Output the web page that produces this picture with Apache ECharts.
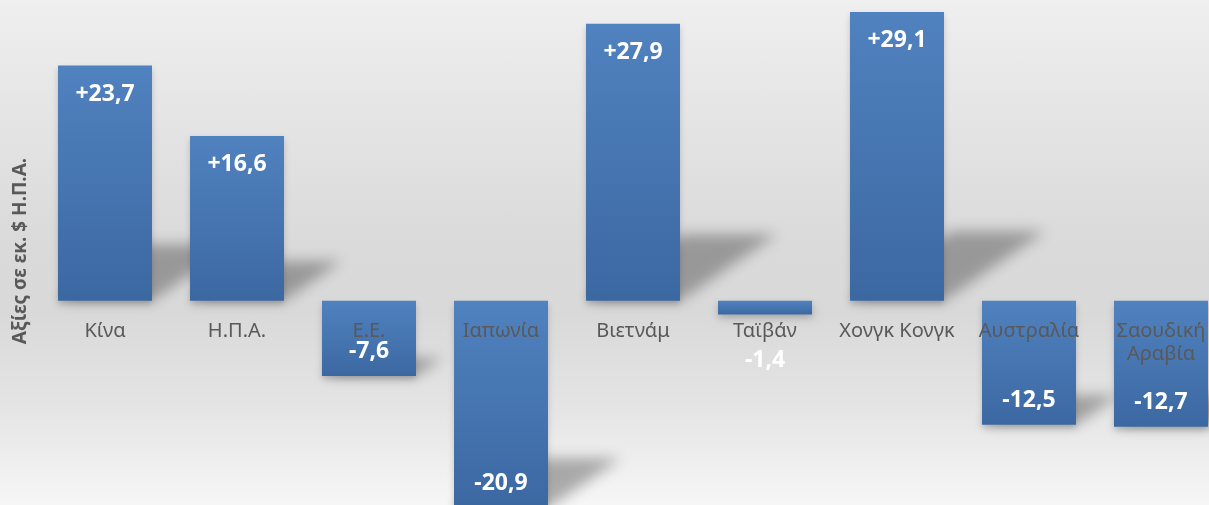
<!DOCTYPE html>
<html>
<head>
<meta charset="utf-8">
<script src="https://cdn.jsdelivr.net/npm/echarts@6/dist/echarts.min.js"></script>
<style>
  html, body { margin: 0; padding: 0; }
  #chart {
    width: 1209px;
    height: 505px;
    background: linear-gradient(to bottom, #efefef 0%, #e6e6e6 20%, #dadada 48%, #d9d9d9 62%, #e4e4e4 80%, #f6f6f6 100%);
  }
</style>
</head>
<body>
<div id="chart"></div>
<script>
// categories and values (εκ. $ Η.Π.Α.)
const categories = ['Κίνα', 'Η.Π.Α.', 'Ε.Ε.', 'Ιαπωνία', 'Βιετνάμ', 'Ταϊβάν', 'Χονγκ Κονγκ', 'Αυστραλία', 'Σαουδική\nΑραβία']
const values = [23.7, 16.6, -7.6, -20.9, 27.9, -1.4, 29.1, -12.5, -12.7]
const yTitle = 'Αξίες σε εκ. $ Η.Π.Α.'
const yMin = -21
const yMax = 30

const chart = echarts.init(document.getElementById('chart'))
const BAR_W = 94
const GRID_TOP = 3
const GRID_H = 506
const FONT = '"Noto Sans", "Open Sans", sans-serif'

// distance from grid bottom up to the zero line
const zeroOffset = GRID_H * (0 - yMin) / (yMax - yMin)

function fmt (v) {
  return (v > 0 ? '+' : '') + v.toFixed(1).replace('.', ',')
}

// label placement per bar
const barData = values.map(v => {
  let label
  if (v >= 0) {
    label = { position: 'insideTop', distance: 17 }
  } else if (v > -3) {
    // tiny bar: label sits under it
    label = { position: 'bottom', distance: 34 }
  } else {
    label = { position: 'insideBottom', distance: 13 }
  }
  return { value: v, label: label }
})

// perspective shadow behind each bar (diagonal, upper right)
function renderShadow (params, api) {
  const idx = api.value(0)
  const v = api.value(1)
  const p0 = api.coord([idx, 0])
  const p1 = api.coord([idx, v])
  const bottom = Math.max(p0[1], p1[1])
  const h = Math.abs(p1[1] - p0[1])
  const x0 = p0[0] - BAR_W / 2
  const x1 = p0[0] + BAR_W / 2
  const dx = h * 0.35
  const dy = h * 0.24
  const off = 3000
  return {
    type: 'polygon',
    silent: true,
    shape: {
      points: [
        [x0 - off, bottom], [x1 - off, bottom],
        [x1 + dx - off, bottom - dy], [x0 + dx - off, bottom - dy]
      ]
    },
    style: {
      fill: '#000',
      shadowColor: 'rgba(0, 0, 0, 0.3)',
      shadowBlur: 14,
      shadowOffsetX: off,
      shadowOffsetY: 0
    }
  }
}

const option = {
  backgroundColor: 'transparent',
  animation: false,
  grid: {
    left: 39,
    top: GRID_TOP,
    width: 1188,
    height: GRID_H,
    containLabel: false,
    outerBoundsMode: 'none'
  },
  xAxis: {
    type: 'category',
    data: categories,
    position: 'bottom',
    offset: -zeroOffset,
    z: 10,
    axisLine: { show: false, onZero: false },
    axisTick: { show: false },
    axisLabel: {
      interval: 0,
      margin: 19,
      color: '#595959',
      fontFamily: FONT,
      fontSize: 20,
      lineHeight: 23
    }
  },
  yAxis: {
    type: 'value',
    min: yMin,
    max: yMax,
    axisLine: { show: false },
    axisTick: { show: false },
    axisLabel: { show: false },
    splitLine: { show: false }
  },
  graphic: [{
    type: 'text',
    x: 21,
    y: 251,
    rotation: Math.PI / 2,
    style: {
      text: yTitle,
      fill: '#595959',
      font: 'bold 19px ' + FONT,
      align: 'center',
      verticalAlign: 'middle'
    }
  }],
  series: [
    {
      type: 'custom',
      z: 1,
      renderItem: renderShadow,
      data: values.map((v, i) => [i, v])
    },
    {
      type: 'bar',
      z: 2,
      barWidth: BAR_W,
      data: barData,
      itemStyle: {
        color: new echarts.graphic.LinearGradient(0, 0, 0, 1, [
          { offset: 0, color: '#5082bf' },
          { offset: 1, color: '#3c68a2' }
        ]),
        shadowColor: 'rgba(0, 0, 0, 0.18)',
        shadowBlur: 6,
        shadowOffsetY: 3
      },
      label: {
        show: true,
        color: '#ffffff',
        fontFamily: FONT,
        fontWeight: 'bold',
        fontSize: 23,
        formatter: p => fmt(p.value)
      }
    }
  ]
}

chart.setOption(option)
</script>
</body>
</html>
